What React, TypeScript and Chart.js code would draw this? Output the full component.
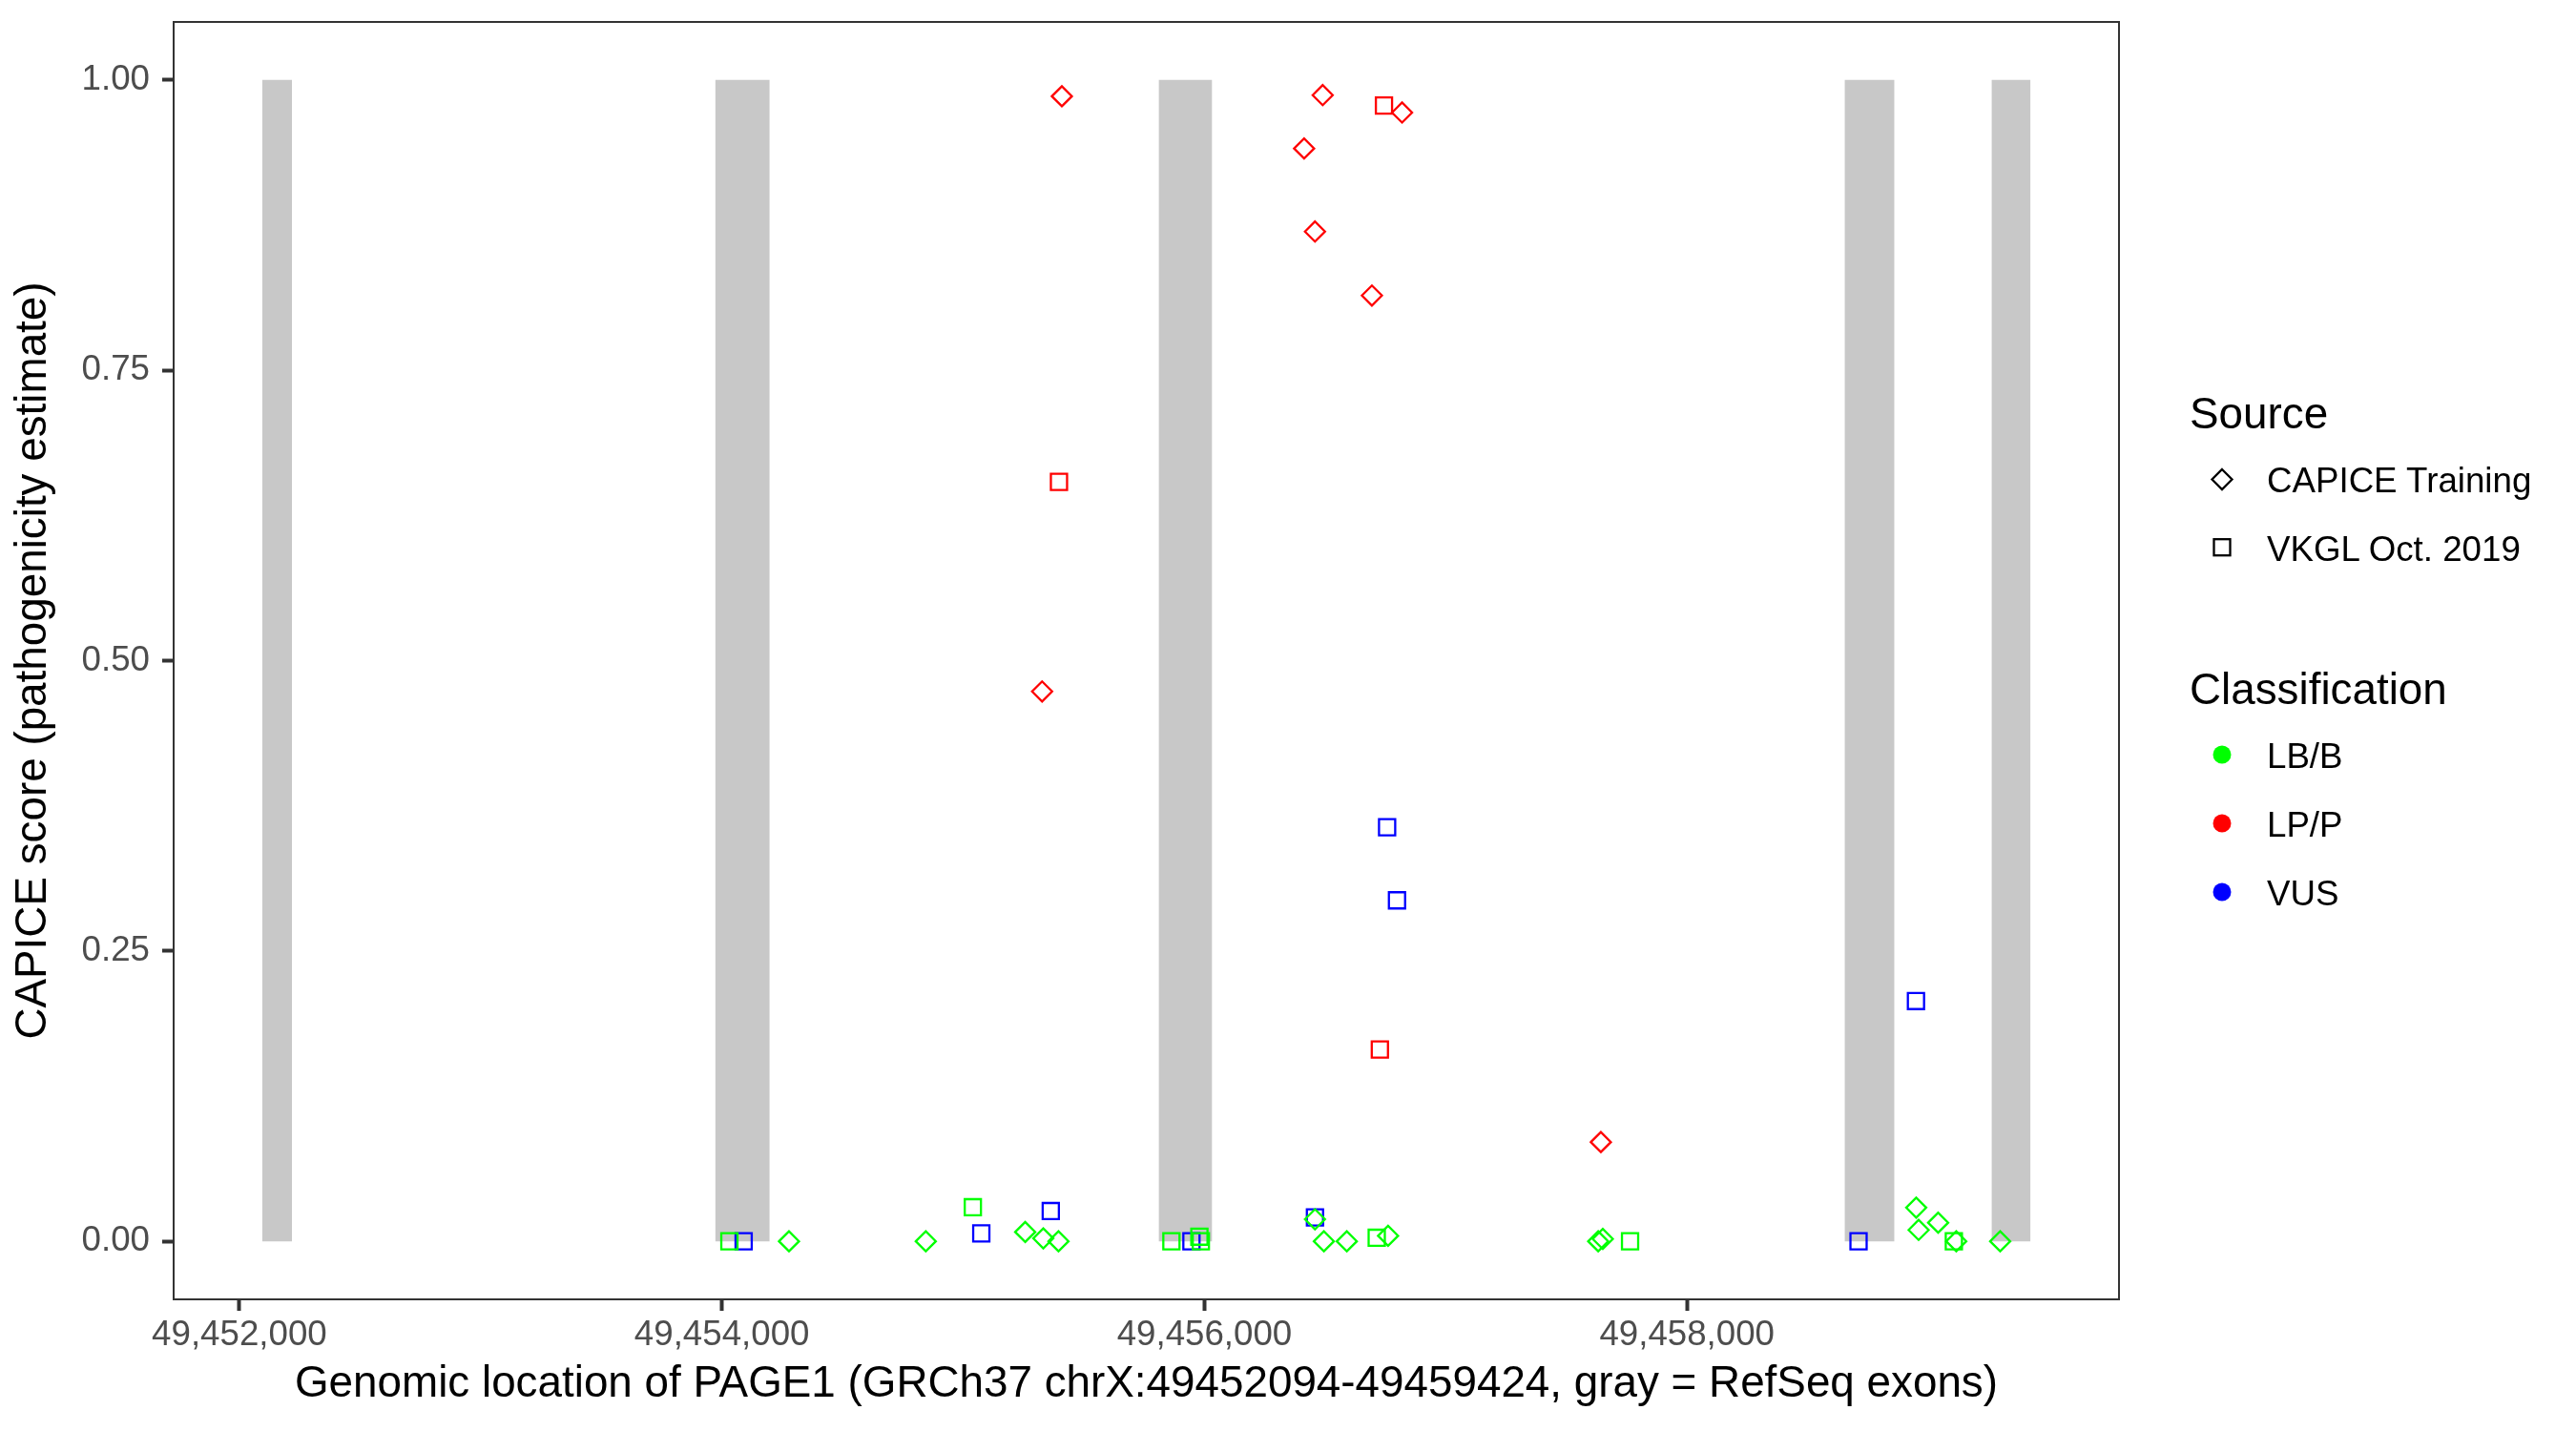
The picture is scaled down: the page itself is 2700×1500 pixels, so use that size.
import React, { useEffect, useRef } from "react";
import { Chart, registerables } from "chart.js";

Chart.register(...registerables);

const W = 2700;
const H = 1500;
const FONT = '"Liberation Sans", Arial, Helvetica, sans-serif';

// ---- data ----
const exonStarts = [49452094, 49453972, 49455810, 49458653, 49459262];
const exonEnds = [49452218, 49454198, 49456032, 49458860, 49459424];

const sources = ["CAPICE Training", "VKGL Oct. 2019"];
const classifications = ["LB/B", "LP/P", "VUS"];

// LB/B, CAPICE Training
const lbbCapicePos = [49454278, 49454845, 49455257, 49455332, 49455395, 49456458, 49456495, 49456590, 49456761, 49457632, 49457651, 49458950, 49458960, 49459041, 49459116, 49459298];
const lbbCapiceScore = [0, 0, 0.008, 0.0025, 0, 0.019, 0, 0, 0.0047, 0, 0.002, 0.029, 0.0098, 0.016, 0, 0];
// LB/B, VKGL
const lbbVkglPos = [49454031, 49455040, 49455863, 49455979, 49455985, 49456714, 49457764, 49459106];
const lbbVkglScore = [0, 0.0293, 0, 0.004, 0, 0.003, 0, 0];
// LP/P, CAPICE Training
const lppCapicePos = [49455409, 49455327, 49456490, 49456819, 49456413, 49456458, 49456694, 49457643];
const lppCapiceScore = [0.986, 0.4735, 0.987, 0.972, 0.941, 0.8695, 0.8144, 0.0854];
// LP/P, VKGL
const lppVkglPos = [49455397, 49456744, 49456727];
const lppVkglScore = [0.654, 0.978, 0.1652];
// VUS, VKGL
const vusVkglPos = [49454090, 49455075, 49455363, 49455946, 49456458, 49456757, 49456798, 49458711, 49458949];
const vusVkglScore = [0, 0.0068, 0.026, 0, 0.0205, 0.3565, 0.2936, 0, 0.2069];

const xTicks = [49452000, 49454000, 49456000, 49458000];
const xTickLabels = ["49,452,000", "49,454,000", "49,456,000", "49,458,000"];
const yTicks = [0, 0.25, 0.5, 0.75, 1];
const yTickLabels = ["0.00", "0.25", "0.50", "0.75", "1.00"];

const xLimits = [49451727.5, 49459790.5];
const yLimits = [-0.05, 1.05];

// ---- styles ----
const classColors = ["#00FF00", "#FF0000", "#0000FF"];
const exonColor = "#C8C8C8";

const zip = (xs: number[], ys: number[]) => xs.map((x, i) => ({ x, y: ys[i] }));

const pointSet = (xs: number[], ys: number[], cls: number, src: number) => ({
  type: "scatter" as const,
  label: classifications[cls] + " / " + sources[src],
  data: zip(xs, ys),
  showLine: false,
  pointStyle: src === 0 ? "rectRot" : "rect",
  pointRadius: src === 0 ? 10.5 : 12,
  pointBorderWidth: 2.3,
  pointBorderColor: classColors[cls],
  pointBackgroundColor: "rgba(0,0,0,0)",
  borderColor: classColors[cls],
  backgroundColor: "rgba(0,0,0,0)",
  order: 1,
});

const borderPlugin = {
  id: "panelBorder",
  afterDraw(chart: any) {
    const { ctx, chartArea } = chart;
    ctx.save();
    ctx.strokeStyle = "#333333";
    ctx.lineWidth = 2;
    ctx.strokeRect(chartArea.left, chartArea.top, chartArea.right - chartArea.left, chartArea.bottom - chartArea.top);
    ctx.restore();
  },
};

const zeroPad = (s: any) => {
  s.paddingTop = 0;
  s.paddingBottom = 0;
  s.paddingLeft = 0;
  s.paddingRight = 0;
};

export default function App() {
  const ref = useRef<HTMLCanvasElement | null>(null);

  useEffect(() => {
    if (!ref.current) return;
    const exonSets = exonStarts.map((s, i) => ({
      type: "line" as const,
      label: "exon" + i,
      data: [
        { x: s, y: 1 },
        { x: exonEnds[i], y: 1 },
      ],
      fill: "origin",
      backgroundColor: exonColor,
      borderWidth: 0,
      borderColor: "rgba(0,0,0,0)",
      pointRadius: 0,
      order: 100,
    }));
    const chart = new Chart(ref.current, {
      type: "scatter",
      data: {
        datasets: [
          pointSet(lbbCapicePos, lbbCapiceScore, 0, 0),
          pointSet(lbbVkglPos, lbbVkglScore, 0, 1),
          pointSet(lppCapicePos, lppCapiceScore, 1, 0),
          pointSet(lppVkglPos, lppVkglScore, 1, 1),
          pointSet(vusVkglPos, vusVkglScore, 2, 1),
          ...exonSets,
        ] as any,
      },
      options: {
        animation: false,
        responsive: false,
        devicePixelRatio: 1,
        layout: { autoPadding: false, padding: { top: 23, right: W - 2221, left: 0, bottom: 0 } },
        plugins: { legend: { display: false }, tooltip: { enabled: false } },
        scales: {
          x: {
            type: "linear",
            min: xLimits[0],
            max: xLimits[1],
            afterBuildTicks: (s: any) => {
              s.ticks = xTicks.map((v) => ({ value: v }));
            },
            afterFit: (s: any) => {
              s.height = 138;
              zeroPad(s);
            },
            ticks: {
              autoSkip: false,
              maxRotation: 0,
              padding: 3.5,
              color: "#4D4D4D",
              font: { family: FONT, size: 36.7 },
              callback: (v: any) => {
                const i = xTicks.indexOf(Number(v));
                return i >= 0 ? xTickLabels[i] : "";
              },
            },
            grid: { display: true, drawOnChartArea: false, drawTicks: true, tickLength: 12, tickColor: "#333333", tickWidth: 4 },
            border: { display: false },
            title: {
              display: true,
              text: "Genomic location of PAGE1 (GRCh37 chrX:49452094-49459424, gray = RefSeq exons)",
              color: "#000000",
              font: { family: FONT, size: 45.8 },
              padding: { top: 0, bottom: 21.2 },
            },
          },
          y: {
            type: "linear",
            min: yLimits[0],
            max: yLimits[1],
            afterBuildTicks: (s: any) => {
              s.ticks = yTicks.map((v) => ({ value: v }));
            },
            afterFit: (s: any) => {
              s.width = 182;
              zeroPad(s);
            },
            ticks: {
              autoSkip: false,
              padding: 13,
              color: "#4D4D4D",
              font: { family: FONT, size: 36.7 },
              callback: (v: any) => {
                const i = yTicks.indexOf(Number(v));
                return i >= 0 ? yTickLabels[i] : "";
              },
            },
            grid: { display: true, drawOnChartArea: false, drawTicks: true, tickLength: 12, tickColor: "#333333", tickWidth: 4 },
            border: { display: false },
            title: {
              display: true,
              text: "CAPICE score (pathogenicity estimate)",
              color: "#000000",
              font: { family: FONT, size: 45.8 },
              padding: { top: 8, bottom: 0 },
            },
          },
        },
      } as any,
      plugins: [borderPlugin],
    });
    return () => chart.destroy();
  }, []);

  const keyX = 2329;
  const labelX = 2376;
  const titleX = 2295;
  const srcRows = [502.5, 573.7];
  const clsRows = [791, 863, 935];

  return (
    <div style={{ position: "absolute", left: 0, top: 0, width: W, height: H, background: "#ffffff" }}>
      <canvas ref={ref} width={W} height={H} style={{ display: "block", width: W, height: H }} />
      <svg width={W} height={H} style={{ position: "absolute", left: 0, top: 0, pointerEvents: "none" }} fontFamily={FONT}>
        <text x={titleX} y={449} fontSize={45.8} fill="#000">{"Source"}</text>
        <polygon
          points={`${keyX},${srcRows[0] - 10.5} ${keyX + 10.5},${srcRows[0]} ${keyX},${srcRows[0] + 10.5} ${keyX - 10.5},${srcRows[0]}`}
          fill="none"
          stroke="#000"
          strokeWidth={2.3}
        />
        <text x={labelX} y={516} fontSize={36.7} fill="#000">{sources[0]}</text>
        <rect x={keyX - 8.5} y={srcRows[1] - 8.5} width={17} height={17} fill="none" stroke="#000" strokeWidth={2.3} />
        <text x={labelX} y={587.5} fontSize={36.7} fill="#000">{sources[1]}</text>
        <text x={titleX} y={738} fontSize={45.8} fill="#000">{"Classification"}</text>
        {classifications.map((c, i) => (
          <g key={c}>
            <circle cx={keyX} cy={clsRows[i]} r={9.5} fill={classColors[i]} />
            <text x={labelX} y={clsRows[i] + 13.5} fontSize={36.7} fill="#000">{c}</text>
          </g>
        ))}
      </svg>
    </div>
  );
}
